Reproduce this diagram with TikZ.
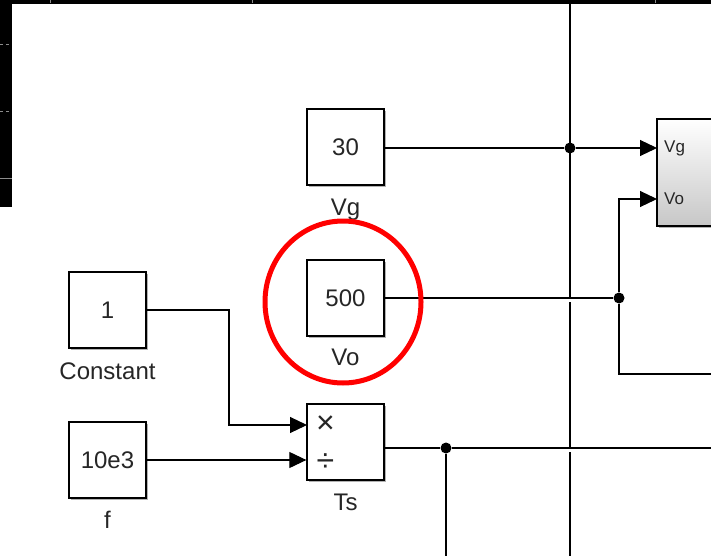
\documentclass[tikz,border=0pt]{standalone}
\usepackage{fontspec}
\setmainfont{Liberation Sans}
\usetikzlibrary{arrows.meta,shadows}

\begin{document}
\begin{tikzpicture}[x=1pt,y=-1pt]
\tikzset{
  blk/.style={draw,line width=1.3pt,fill=white,minimum width=77pt,minimum height=76pt,inner sep=0pt,
    font=\fontsize{24}{24}\selectfont,text=black!85,
    drop shadow={shadow xshift=2pt,shadow yshift=-2pt,fill=black,opacity=0.3}},
  subsys/.style={blk,top color=white,bottom color=black!22,minimum width=90pt,minimum height=107pt},
  blklabel/.style={anchor=base,inner sep=0pt,font=\fontsize{24}{24}\selectfont,text=black!85},
  portlabel/.style={anchor=west,inner sep=0pt,font=\fontsize{17}{17}\selectfont,text=black!85},
  oplabel/.style={inner sep=0pt,font=\fontsize{32}{32}\selectfont,text=black!85},
  signal/.style={-{Triangle[length=17pt,width=16pt]},line width=1.1pt},
  wire/.style={line width=1.1pt},
  junction/.style={circle,fill,inner sep=0pt,minimum size=11pt},
  tickmark/.style={black!45,line width=0.8pt},
  marker/.style={draw=red,line width=5pt}
}
\clip (0,0) rectangle (711,556);
\fill[white] (0,0) rectangle (711,556);
\fill[black] (0,0) rectangle (711,4);
\fill[black] (0,0) rectangle (12,207);
\draw[tickmark] (50,0) -- (50,3);
\draw[tickmark] (252,0) -- (252,3);
\draw[tickmark] (655,0) -- (655,3);
\draw[tickmark,dashed] (0,44) -- (12,44);
\draw[tickmark,dashed] (0,111) -- (12,111);
\draw[tickmark] (0,178) -- (12,178);
\node[blk] (b_vg) at (345.5,147) {30};
\node[blk] (b_vo) at (345.5,298) {500};
\node[blk] (b_one) at (107.5,310) {1};
\node[blk] (b_f) at (107.5,460) {10e3};
\node[blk] (b_ts) at (345.5,442) {};
\node[subsys] (b_sys) at (702,172.5) {};
\node[blklabel] (l_vg) at (345.5,215) {Vg};
\node[blklabel] (l_vo) at (345.5,365) {Vo};
\node[blklabel] (l_one) at (107.5,379) {Constant};
\node[blklabel] (l_f) at (107.5,528) {f};
\node[blklabel] (l_ts) at (345.5,510) {Ts};
\node[oplabel] (o_mul) at (325.5,425) {×};
\node[oplabel] (o_div) at (325.5,463) {÷};
\node[portlabel] (l_pvg) at (664,148) {Vg};
\node[portlabel] (l_pvo) at (664,199) {Vo};
\coordinate (p_vg) at (657,148);
\coordinate (p_vo) at (657,199);
\coordinate (p_mul) at (307,425);
\coordinate (p_out) at (384,448);
\coordinate (c_bend) at (229,310);
\coordinate (bus_t) at (570,0);
\coordinate (bus_a) at (570,298);
\coordinate (bus_b) at (570,302);
\coordinate (bus_c) at (570,449);
\coordinate (bus_d) at (570,452);
\coordinate (bus_e) at (570,556);
\coordinate (e_vo) at (711,374);
\coordinate (e_ts) at (711,448);
\coordinate (e_down) at (446,556);
\node[junction] (j_vg) at (570,148) {};
\node[junction] (j_vo) at (619,298) {};
\node[junction] (j_ts) at (446,448) {};
\draw[wire] (bus_t) -- (bus_a);
\draw[wire] (bus_b) -- (bus_c);
\draw[wire] (bus_d) -- (bus_e);
\draw[wire] (b_vg.east |- p_vg) -- (j_vg);
\draw[signal] (j_vg) -- (p_vg);
\draw[wire] (b_vo.east) -- (j_vo);
\draw[signal] (j_vo) |- (p_vo);
\draw[wire] (j_vo) |- (e_vo);
\draw[signal] (b_one.east) -- (c_bend) |- (p_mul);
\draw[signal] (b_f.east) -- (b_f.east -| b_ts.west);
\draw[wire] (p_out) -- (j_ts);
\draw[wire] (j_ts) -- (e_ts);
\draw[wire] (j_ts) -- (e_down);
\draw[marker] (343,302) ellipse [x radius=78, y radius=81];
\end{tikzpicture}
\end{document}
